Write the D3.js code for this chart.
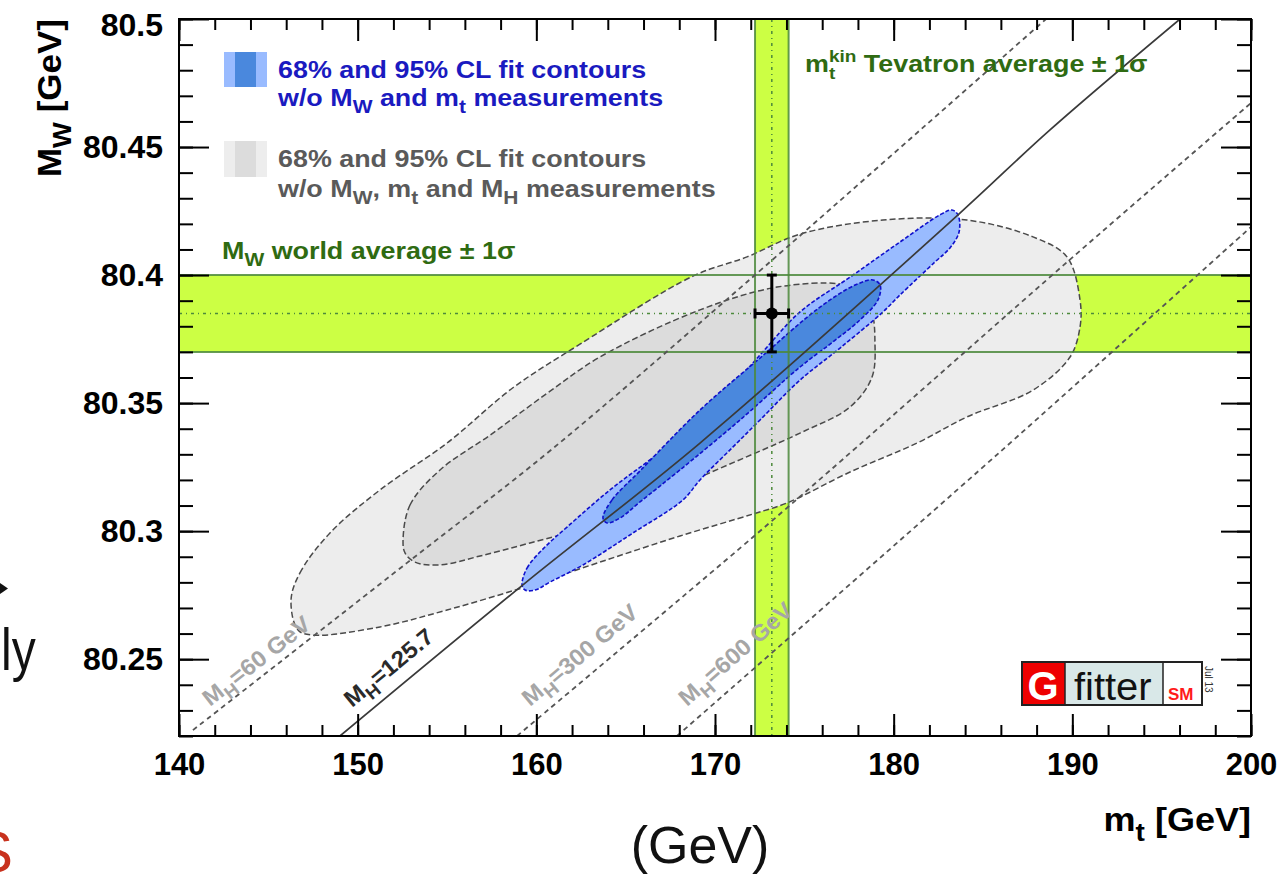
<!DOCTYPE html>
<html>
<head>
<meta charset="utf-8">
<script src="https://cdn.jsdelivr.net/npm/d3@7"></script>
<style>
  body { margin: 0; background: #fff; }
  svg text { font-family: "Liberation Sans", Arial, sans-serif; }
</style>
</head>
<body>
<div id="chart"></div>
<script>
// axis ranges and ticks
var xDomain = [140, 200];
var yDomain = [80.22, 80.5];
var xMajor = [140, 150, 160, 170, 180, 190, 200];
var xMinor = d3.range(140, 200.001, 2);
var yMajor = [80.25, 80.3, 80.35, 80.4, 80.45, 80.5];
var yMinor = d3.range(22, 50.001, 1).map(function (d) { return +(80 + d / 100).toFixed(2); });

// measurements: [central, 1 sigma]
var mwWorld = [80.385, 0.015];
var mtTevatron = [173.18, 0.94];

// fit contours, points [mt, MW]
var gray95 = [[146.27,80.2731],[146.77,80.2837],[148.45,80.2993],[151.25,80.3161],[155.00,80.3344],
  [158.69,80.3560],[162.44,80.3730],[168.77,80.3996],[171.79,80.4071],[174.76,80.4160],[179.40,80.4215],
  [184.10,80.4215],[187.80,80.4149],[189.70,80.4071],[190.43,80.3903],[190.43,80.3797],[189.87,80.3680],
  [187.80,80.3551],[184.10,80.3446],[181.31,80.3344],[177.56,80.3231],[174.03,80.3110],[172.13,80.3067],
  [168.04,80.2981],[163.56,80.2879],[159.37,80.2782],[155.00,80.2692],[151.25,80.2626],[147.50,80.2594],
  [146.66,80.2614]];
var gray68 = [[152.54,80.2965],[152.93,80.3102],[154.61,80.3239],[157.41,80.3375],[160.48,80.3532],
  [163.56,80.3680],[169.16,80.3864],[173.47,80.3953],[177.00,80.3965],[178.23,80.3934],[178.79,80.3856],
  [178.95,80.3746],[178.79,80.3602],[177.56,80.3485],[174.76,80.3383],[169.16,80.3211],[163.56,80.3032],
  [159.65,80.2954],[156.85,80.2903],[154.61,80.2868],[153.21,80.2879],[152.65,80.2915]];
var blue95 = [[159.20,80.2790],[159.48,80.2856],[160.48,80.2938],[161.72,80.3016],[164.12,80.3161],
  [166.92,80.3309],[170.28,80.3512],[172.52,80.3688],[174.76,80.3856],[177.56,80.3992],[180.35,80.4129],
  [182.59,80.4235],[183.26,80.4254],[183.60,80.4235],[183.66,80.4168],[183.15,80.4106],[182.31,80.4051],
  [180.35,80.3922],[179.40,80.3856],[177.00,80.3715],[174.76,80.3590],[172.52,80.3434],[171.01,80.3329],
  [169.16,80.3200],[168.21,80.3122],[165.41,80.2993],[162.61,80.2868],[160.76,80.2801],[159.93,80.2770],
  [159.37,80.2770]];
var blue68 = [[163.73,80.3051],[164.24,80.3122],[165.80,80.3235],[169.16,80.3473],[172.52,80.3676],
  [175.88,80.3875],[177.84,80.3961],[178.84,80.3981],[179.24,80.3961],[179.12,80.3903],[178.12,80.3825],
  [176.60,80.3739],[174.76,80.3641],[171.40,80.3434],[168.04,80.3239],[165.80,80.3114],[164.68,80.3051],
  [163.96,80.3032]];

// lines of constant MH
var mhNames = ["60 GeV", "125.7", "300 GeV", "600 GeV"];
var mhPoints = [
  [[140.78,80.2223],[152.76,80.2876],[160.82,80.3317],[171.79,80.3973],[188.53,80.5]],
  [[149.01,80.2200],[159.37,80.2797],[169.16,80.3344],[183.71,80.4242],[188.75,80.4567],[196.03,80.5]],
  [[158.92,80.2200],[172.13,80.2977],[177.95,80.3329],[190.04,80.4071],[200.0,80.4672]],
  [[167.87,80.2200],[185.95,80.3309],[200.0,80.4188]]
];
var mhLabelAt = [[141.73,80.2313],[149.68,80.2309],[159.65,80.2313],[168.43,80.2313]];

var W = 1285, H = 876;
var plot = { left: 179, right: 1251, top: 19, bottom: 736 };
var SX = 1.12;  // the picture is a bit stretched sideways

var svg = d3.select("#chart").append("svg")
  .attr("width", W).attr("height", H);

var x = d3.scaleLinear().domain(xDomain).range([plot.left, plot.right]);
var y = d3.scaleLinear().domain(yDomain).range([plot.bottom, plot.top]);

svg.append("clipPath").attr("id", "clip").append("rect")
  .attr("x", plot.left).attr("y", plot.top)
  .attr("width", plot.right - plot.left).attr("height", plot.bottom - plot.top);

var area = svg.append("g").attr("clip-path", "url(#clip)");

// text with sub/superscripts: parts = [[text, "sub"|"sup"|""], ...]
function richText(parent, px, py, parts, size, color, sx, weight) {
  var t = parent.append("text")
    .attr("transform", "translate(" + px + "," + py + ") scale(" + (sx || 1) + ",1)")
    .attr("font-size", size).attr("font-weight", weight || "bold").attr("fill", color);
  var cur = 0;
  parts.forEach(function (p) {
    var off = p[1] === "sub" ? size * 0.3 : p[1] === "sup" ? -size * 0.42 : 0;
    t.append("tspan")
      .attr("dy", off - cur)
      .attr("font-size", p[1] ? size * 0.78 : size)
      .text(p[0]);
    cur = off;
  });
  return t;
}

// bands (fill)
var bandFill = "#ccff44", bandLine = "#4d8a3c";
area.append("rect")
  .attr("x", plot.left).attr("width", plot.right - plot.left)
  .attr("y", y(mwWorld[0] + mwWorld[1]))
  .attr("height", y(mwWorld[0] - mwWorld[1]) - y(mwWorld[0] + mwWorld[1]))
  .attr("fill", bandFill);
area.append("rect")
  .attr("y", plot.top).attr("height", plot.bottom - plot.top)
  .attr("x", x(mtTevatron[0] - mtTevatron[1]))
  .attr("width", x(mtTevatron[0] + mtTevatron[1]) - x(mtTevatron[0] - mtTevatron[1]))
  .attr("fill", bandFill);

// contours
var contourPath = d3.line().x(function (d) { return x(d[0]); }).y(function (d) { return y(d[1]); })
  .curve(d3.curveCatmullRomClosed.alpha(0.5));
area.append("path").attr("d", contourPath(gray95)).attr("fill", "#ededed")
  .attr("stroke", "#4a4a4a").attr("stroke-width", 1.5).attr("stroke-dasharray", "6,3");
area.append("path").attr("d", contourPath(gray68)).attr("fill", "#dcdcdc")
  .attr("stroke", "#4a4a4a").attr("stroke-width", 1.5).attr("stroke-dasharray", "6,3");
area.append("path").attr("d", contourPath(blue95)).attr("fill", "#99bbff")
  .attr("stroke", "#1010cc").attr("stroke-width", 1.6).attr("stroke-dasharray", "4,2");
area.append("path").attr("d", contourPath(blue68)).attr("fill", "#4a88dd")
  .attr("stroke", "#1010cc").attr("stroke-width", 1.6).attr("stroke-dasharray", "4,2");

// band borders and central values
[mwWorld[0] - mwWorld[1], mwWorld[0] + mwWorld[1]].forEach(function (v) {
  area.append("line").attr("x1", plot.left).attr("x2", plot.right)
    .attr("y1", y(v)).attr("y2", y(v)).attr("stroke", bandLine).attr("stroke-width", 2).attr("opacity", 0.85);
});
[mtTevatron[0] - mtTevatron[1], mtTevatron[0] + mtTevatron[1]].forEach(function (v) {
  area.append("line").attr("y1", plot.top).attr("y2", plot.bottom)
    .attr("x1", x(v)).attr("x2", x(v)).attr("stroke", bandLine).attr("stroke-width", 2).attr("opacity", 0.85);
});
area.append("line").attr("x1", plot.left).attr("x2", plot.right)
  .attr("y1", y(mwWorld[0])).attr("y2", y(mwWorld[0]))
  .attr("stroke", bandLine).attr("stroke-width", 1.5).attr("stroke-dasharray", "3,4,1,4");
area.append("line").attr("y1", plot.top).attr("y2", plot.bottom)
  .attr("x1", x(mtTevatron[0])).attr("x2", x(mtTevatron[0]))
  .attr("stroke", bandLine).attr("stroke-width", 1.5).attr("stroke-dasharray", "3,4,1,4");

// MH lines
var mhPath = d3.line().x(function (d) { return x(d[0]); }).y(function (d) { return y(d[1]); })
  .curve(d3.curveCatmullRom.alpha(0.5));
mhPoints.forEach(function (pts, i) {
  var solid = i === 1;
  area.append("path").attr("d", mhPath(pts)).attr("fill", "none")
    .attr("stroke", solid ? "#3a3a3a" : "#555")
    .attr("stroke-width", solid ? 1.7 : 1.8)
    .attr("stroke-dasharray", solid ? null : "5,4");
  var a = Math.atan2(y(pts[1][1]) - y(pts[0][1]), x(pts[1][0]) - x(pts[0][0])) * 180 / Math.PI;
  var lx = x(mhLabelAt[i][0]), ly = y(mhLabelAt[i][1]);
  var g = area.append("g").attr("transform", "translate(" + lx + "," + ly + ") rotate(" + a + ")");
  richText(g, 0, 0, [["M", ""], ["H", "sub"], ["=" + mhNames[i], ""]], 23,
    solid ? "#2a2a2a" : "#a6a6a6", 1.05);
});

// measurement point
var px = x(mtTevatron[0]), py = y(mwWorld[0]);
var pt = svg.append("g").attr("stroke", "#000").attr("stroke-width", 3);
pt.append("line").attr("x1", x(mtTevatron[0] - mtTevatron[1])).attr("x2", x(mtTevatron[0] + mtTevatron[1]))
  .attr("y1", py).attr("y2", py);
pt.append("line").attr("y1", y(mwWorld[0] - mwWorld[1])).attr("y2", y(mwWorld[0] + mwWorld[1]))
  .attr("x1", px).attr("x2", px);
[mwWorld[0] - mwWorld[1], mwWorld[0] + mwWorld[1]].forEach(function (v) {
  pt.append("line").attr("x1", px - 5).attr("x2", px + 5).attr("y1", y(v)).attr("y2", y(v));
});
[mtTevatron[0] - mtTevatron[1], mtTevatron[0] + mtTevatron[1]].forEach(function (v) {
  pt.append("line").attr("y1", py - 5).attr("y2", py + 5).attr("x1", x(v)).attr("x2", x(v));
});
svg.append("circle").attr("cx", px).attr("cy", py).attr("r", 6).attr("fill", "#000");

// axes: ticks inside on all four sides
function styleAxis(g) {
  g.select(".domain").remove();
  g.attr("font-family", null).attr("font-size", null);
  g.selectAll(".tick line").attr("stroke", "#000").attr("stroke-width", 2);
  g.selectAll(".tick text").attr("fill", "#000").attr("font-size", 31).attr("font-weight", "bold");
}
svg.append("g").attr("transform", "translate(0," + plot.bottom + ")")
  .call(d3.axisBottom(x).tickValues(xMinor).tickSize(-11).tickSizeOuter(0).tickFormat("")).call(styleAxis);
svg.append("g").attr("transform", "translate(0," + plot.bottom + ")")
  .call(d3.axisBottom(x).tickValues(xMajor).tickSize(-22).tickSizeOuter(0).tickPadding(17)
    .tickFormat(d3.format("d"))).call(styleAxis);
svg.append("g").attr("transform", "translate(0," + plot.top + ")")
  .call(d3.axisTop(x).tickValues(xMinor).tickSize(-11).tickSizeOuter(0).tickFormat("")).call(styleAxis);
svg.append("g").attr("transform", "translate(0," + plot.top + ")")
  .call(d3.axisTop(x).tickValues(xMajor).tickSize(-22).tickSizeOuter(0).tickFormat("")).call(styleAxis);

svg.append("g").attr("transform", "translate(" + plot.left + ",0)")
  .call(d3.axisLeft(y).tickValues(yMinor).tickSize(-14).tickSizeOuter(0).tickFormat("")).call(styleAxis);
var yLab = svg.append("g").attr("transform", "translate(" + plot.left + ",0)")
  .call(d3.axisLeft(y).tickValues(yMajor).tickSize(-30).tickSizeOuter(0).tickPadding(16)
    .tickFormat(function (d) { return String(+d.toFixed(2)); })).call(styleAxis);
yLab.selectAll(".tick text").attr("font-size", 32);
yLab.selectAll(".tick text").filter(function (d) { return d === 80.5; }).attr("y", 6);
svg.append("g").attr("transform", "translate(" + plot.right + ",0)")
  .call(d3.axisRight(y).tickValues(yMinor).tickSize(-14).tickSizeOuter(0).tickFormat("")).call(styleAxis);
svg.append("g").attr("transform", "translate(" + plot.right + ",0)")
  .call(d3.axisRight(y).tickValues(yMajor).tickSize(-30).tickSizeOuter(0).tickFormat("")).call(styleAxis);

svg.append("rect").attr("x", plot.left).attr("y", plot.top)
  .attr("width", plot.right - plot.left).attr("height", plot.bottom - plot.top)
  .attr("fill", "none").attr("stroke", "#000").attr("stroke-width", 2);

// axis titles
richText(svg, plot.right, 831, [["m", ""], ["t", "sub"], [" [GeV]", ""]], 34, "#000", 1.06)
  .attr("text-anchor", "end");
var yt = svg.append("g").attr("transform", "translate(61," + plot.top + ") rotate(-90)");
richText(yt, 0, 0, [["M", ""], ["W", "sub"], [" [GeV]", ""]], 34, "#000", 1.03)
  .attr("text-anchor", "end");

// legend
var blueTxt = "#1a1ac0", grayTxt = "#5a5a5a", greenTxt = "#2f6b12";
svg.append("rect").attr("x", 224).attr("y", 52).attr("width", 43).attr("height", 35).attr("fill", "#99bbff");
svg.append("rect").attr("x", 235).attr("y", 52).attr("width", 21).attr("height", 35).attr("fill", "#4a88dd");
svg.append("rect").attr("x", 224).attr("y", 141).attr("width", 43).attr("height", 36).attr("fill", "#ededed");
svg.append("rect").attr("x", 235).attr("y", 141).attr("width", 21).attr("height", 36).attr("fill", "#dcdcdc");
richText(svg, 278, 78, [["68% and 95% CL fit contours", ""]], 24, blueTxt, SX);
richText(svg, 278, 106, [["w/o M", ""], ["W", "sub"], [" and m", ""], ["t", "sub"], [" measurements", ""]], 24, blueTxt, SX);
richText(svg, 278, 167, [["68% and 95% CL fit contours", ""]], 24, grayTxt, SX);
richText(svg, 278, 197, [["w/o M", ""], ["W", "sub"], [", m", ""], ["t", "sub"], [" and M", ""], ["H", "sub"],
  [" measurements", ""]], 24, grayTxt, SX);
richText(svg, 222, 259, [["M", ""], ["W", "sub"], [" world average \u00b1 1\u03c3", ""]], 24, greenTxt, SX);

// m_t^kin label with stacked sub/superscript
var tev = svg.append("text").attr("transform", "translate(805,72) scale(" + SX + ",1)")
  .attr("font-size", 24).attr("font-weight", "bold").attr("fill", greenTxt);
tev.append("tspan").text("m");
var kin = tev.append("tspan").attr("font-size", 17).attr("dy", -10).text("kin");
var kinLen = kin.node().getComputedTextLength();
var tsub = tev.append("tspan").attr("font-size", 17).attr("dy", 17).attr("dx", -kinLen).text("t");
var tLen = tsub.node().getComputedTextLength();
tev.append("tspan").attr("dy", -7).attr("dx", kinLen - tLen).text(" Tevatron average  \u00b1 1\u03c3");

// Gfitter logo
var logo = svg.append("g");
logo.append("rect").attr("x", 1022).attr("y", 662).attr("width", 43).attr("height", 43).attr("fill", "#ee0000");
logo.append("rect").attr("x", 1065).attr("y", 662).attr("width", 98).attr("height", 43).attr("fill", "#d9e8e8");
logo.append("rect").attr("x", 1163).attr("y", 662).attr("width", 39).attr("height", 43).attr("fill", "#fff");
logo.append("rect").attr("x", 1022).attr("y", 662).attr("width", 180).attr("height", 43)
  .attr("fill", "none").attr("stroke", "#222").attr("stroke-width", 2);
logo.append("line").attr("x1", 1065).attr("x2", 1065).attr("y1", 662).attr("y2", 705).attr("stroke", "#222").attr("stroke-width", 1.5);
logo.append("line").attr("x1", 1163).attr("x2", 1163).attr("y1", 662).attr("y2", 705).attr("stroke", "#222").attr("stroke-width", 1.5);
logo.append("text").attr("x", 1043).attr("y", 700).attr("text-anchor", "middle")
  .attr("font-size", 40).attr("font-weight", "bold").attr("fill", "#fff").text("G");
logo.append("text").attr("transform", "translate(1074,700) scale(1.05,1)")
  .attr("font-size", 38).attr("fill", "#111").text("fitter");
logo.append("text").attr("x", 1168).attr("y", 700)
  .attr("font-size", 17).attr("font-weight", "bold").attr("fill", "#ff1a1a").text("SM");
logo.append("text").attr("transform", "translate(1205,666) rotate(90)")
  .attr("font-size", 10).attr("fill", "#333").text("Jul 13");

// bits of the surrounding slide (cut by the picture's left edge in the reference)
svg.append("text").attr("transform", "translate(1,670) scale(0.8,1)")
  .attr("font-family", "'Noto Sans', sans-serif").attr("font-size", 60).attr("fill", "#111").text("ly");
svg.append("text").attr("x", 700).attr("y", 863).attr("text-anchor", "middle")
  .attr("font-family", "'Noto Sans', sans-serif").attr("font-size", 52).attr("fill", "#111").text("(GeV)");
svg.append("text").attr("x", 13).attr("y", 872).attr("text-anchor", "end")
  .attr("font-family", "'Noto Sans', sans-serif").attr("font-size", 58).attr("fill", "#c8321e").text("S");
svg.append("path").attr("d", "M0,583 L8,588.5 L0,594 Z").attr("fill", "#111");
</script>
</body>
</html>
